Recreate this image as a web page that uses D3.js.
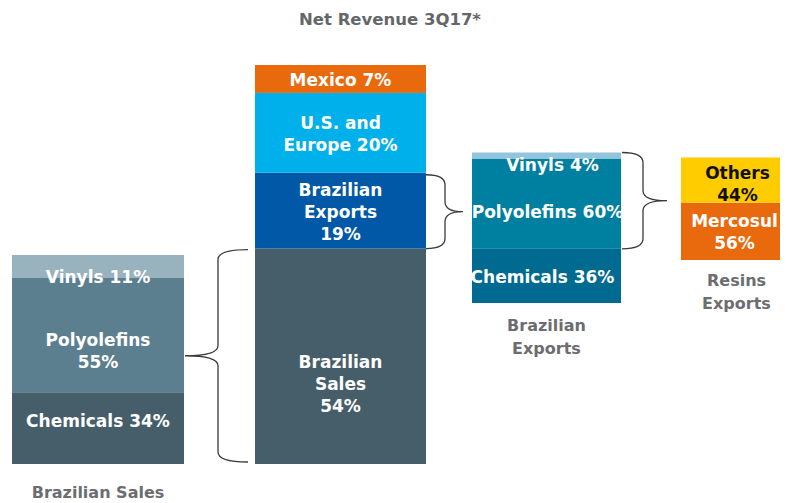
<!DOCTYPE html>
<html>
<head>
<meta charset="utf-8">
<script src="https://cdn.jsdelivr.net/npm/d3@7"></script>
<style>
  body { margin: 0; background: #fff; }
  svg text { font-family: "DejaVu Sans", Verdana, sans-serif; font-weight: bold; }
</style>
</head>
<body>
<svg id="chart" width="786" height="503"></svg>
<script>
// data
const salesCats = ["Chemicals", "Polyolefins", "Vinyls"]
const salesVals = [34, 55, 11]
const revenueCats = ["Brazilian Sales", "Brazilian Exports", "U.S. and Europe", "Mexico"]
const revenueVals = [54, 19, 20, 7]
const exportsCats = ["Chemicals", "Polyolefins", "Vinyls"]
const exportsVals = [36, 60, 4]
const resinsCats = ["Mercosul", "Others"]
const resinsVals = [56, 44]

const salesLabels = ["Chemicals 34%", "Polyolefins\n55%", "Vinyls 11%"]
const revenueLabels = ["Brazilian\nSales\n54%", "Brazilian\nExports\n19%", "U.S. and\nEurope 20%", "Mexico 7%"]
const exportsLabels = ["Chemicals 36%", "Polyolefins 60%", "Vinyls 4%"]
const resinsLabels = ["Mercosul\n56%", "Others\n44%"]

const title = "Net Revenue 3Q17*"

const svg = d3.select('#chart')
svg.selectAll("*").remove()

// layout of each bar (x, width, pixel bottom/top)
const bars = [
  {cats: salesCats, vals: salesVals, labels: salesLabels, x: 12, w: 172, bottom: 464, top: 255,
   colors: ["#465e6a", "#5c7f90", "#98b2be"], textColors: ["#fff", "#fff", "#fff"], dy: [-7, 16, 11], dx: [0, 0, 0],
   caption: ["Brazilian Sales"], capY: 492},
  {cats: revenueCats, vals: revenueVals, labels: revenueLabels, x: 255, w: 171, bottom: 464, top: 65,
   colors: ["#465e6a", "#0058a6", "#00b0ea", "#e96a0c"], textColors: ["#fff", "#fff", "#fff", "#fff"], dy: [28, 1, 1, 1], dx: [0, 0, 0, 0],
   caption: [], capY: 0},
  {cats: exportsCats, vals: exportsVals, labels: exportsLabels, x: 472, w: 149, bottom: 303, top: 152.5,
   colors: ["#006a90", "#0080a1", "#92c4dd"], textColors: ["#fff", "#fff", "#fff"], dy: [1, 8, 9], dx: [-4, 1, 6],
   caption: ["Brazilian", "Exports"], capY: 325},
  {cats: resinsCats, vals: resinsVals, labels: resinsLabels, x: 681, w: 99, bottom: 260, top: 157.5,
   colors: ["#e96a0c", "#ffcc00"], textColors: ["#fff", "#111"], dy: [1, 4], dx: [4, 7],
   caption: ["Resins", "Exports"], capY: 280}
]

const lineH = 22

bars.forEach(b => {
  const y = d3.scaleLinear().domain([0, d3.sum(b.vals)]).range([b.bottom, b.top])
  b.y = y
  const stacked = d3.cumsum(b.vals)
  const segs = b.vals.map((v, i) => ({cat: b.cats[i], v: v, y0: stacked[i] - v, y1: stacked[i], i: i}))
  b.segs = segs

  const g = svg.append('g')
  g.selectAll('rect').data(segs).enter().append('rect')
    .attr('x', b.x)
    .attr('width', b.w)
    .attr('y', d => y(d.y1))
    .attr('height', d => y(d.y0) - y(d.y1))
    .attr('fill', d => b.colors[d.i])

  segs.forEach(d => {
    const lines = b.labels[d.i].split("\n")
    const cy = (y(d.y0) + y(d.y1)) / 2 + b.dy[d.i]
    const t = g.append('text')
      .attr('text-anchor', 'middle')
      .attr('font-size', 17)
      .attr('fill', b.textColors[d.i])
    lines.forEach((l, k) => {
      t.append('tspan')
        .attr('x', b.x + b.w / 2 + b.dx[d.i])
        .attr('y', cy + (k - (lines.length - 1) / 2) * lineH)
        .attr('dominant-baseline', 'central')
        .text(l)
    })
  })

  b.caption.forEach((c, k) => {
    svg.append('text')
      .attr('x', b.x + b.w / 2 + (b.caption.length > 1 && b.w < 120 ? 6 : 0))
      .attr('y', b.capY + k * 23)
      .attr('text-anchor', 'middle')
      .attr('dominant-baseline', 'central')
      .attr('font-size', 16)
      .attr('fill', '#6b6d70')
      .text(c)
  })
})

svg.append('text')
  .attr('x', 390)
  .attr('y', 19)
  .attr('text-anchor', 'middle')
  .attr('dominant-baseline', 'central')
  .attr('font-size', 16.5)
  .attr('fill', '#64676a')
  .text(title)

// curly brace: open end at xOpen, tip at xTip, spine at xSpine
function brace(xOpen, xSpine, xTip, y1, y2) {
  const r = 10
  const ym = (y1 + y2) / 2
  const p = d3.path()
  p.moveTo(xOpen, y1)
  p.quadraticCurveTo(xSpine, y1, xSpine, y1 + r)
  p.lineTo(xSpine, ym - r)
  p.quadraticCurveTo(xSpine, ym, xTip, ym)
  p.quadraticCurveTo(xSpine, ym, xSpine, ym + r)
  p.lineTo(xSpine, y2 - r)
  p.quadraticCurveTo(xSpine, y2, xOpen, y2)
  svg.append('path')
    .attr('d', p.toString())
    .attr('fill', 'none')
    .attr('stroke', '#3a3a3a')
    .attr('stroke-width', 1.3)
}

const rev = bars[1], exp = bars[2]
// Brazilian Sales segment of revenue bar -> sales breakdown
brace(248, 218, 185, rev.y(rev.segs[0].y1) + 1, rev.y(rev.segs[0].y0) - 2)
// Brazilian Exports segment -> exports breakdown
brace(426, 445, 463, rev.y(rev.segs[1].y1) + 2, rev.y(rev.segs[1].y0))
// resins (polyolefins + vinyls) -> resins exports
brace(622, 643, 667, exp.y(100), exp.y(exp.segs[1].y0))
</script>
</body>
</html>
